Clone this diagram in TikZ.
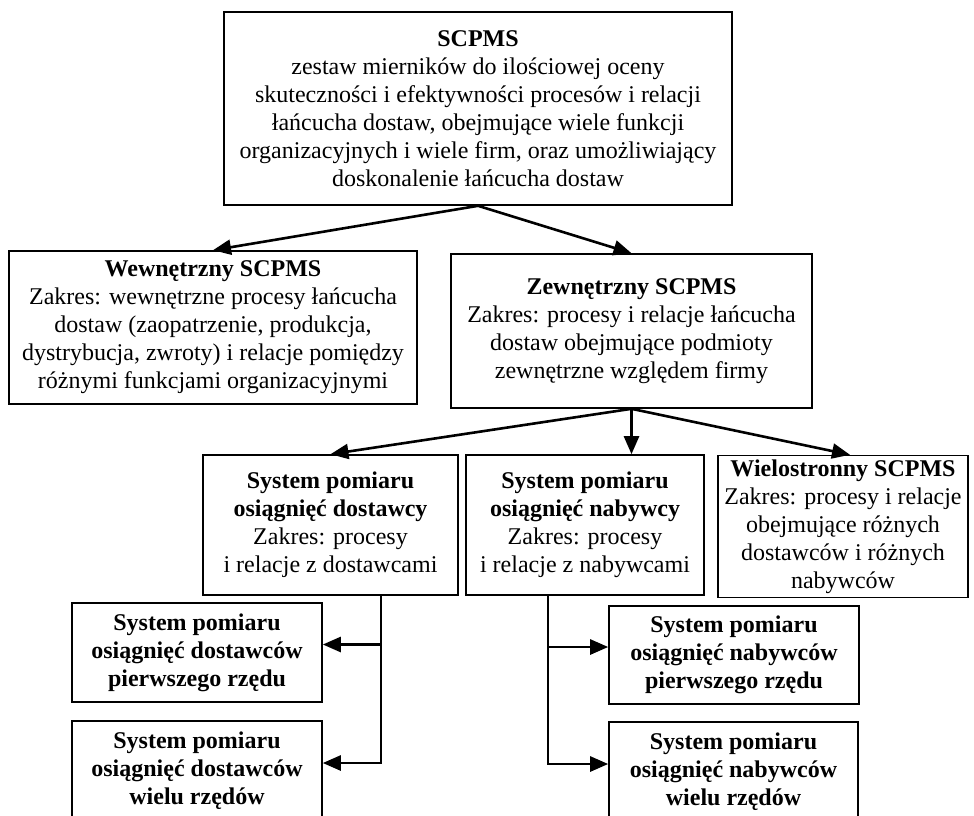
\documentclass[tikz,border=0pt]{standalone}
\usepackage{fontspec}
\setmainfont{Liberation Serif}
\usetikzlibrary{arrows.meta}
\tikzset{
   box/.style={draw, line width=0.8pt, align=center, inner sep=2pt,
      font=\fontsize{12pt}{14pt}\selectfont},
   arr/.style={-{Triangle[length=9pt,width=7.5pt]}, line width=1.3pt},
}

\begin{document}
\begin{tikzpicture}[x=0.5pt, y=-0.5pt]
   \useasboundingbox (0,0) rectangle (974,815);
   \clip (0,0) rectangle (974,815);

   \node [box, minimum width=254pt, minimum height=96.5pt] (scpms) at (478,108.5)
      {\textbf{SCPMS}\\ zestaw mierników do ilościowej oceny\\ skuteczności i efektywności procesów i relacji\\ łańcucha dostaw, obejmujące wiele funkcji\\ organizacyjnych i wiele firm, oraz umożliwiający\\ doskonalenie łańcucha dostaw};
   \node [box, minimum width=204pt, minimum height=76.5pt] (wew) at (213,327.5)
      {\textbf{Wewnętrzny SCPMS}\\ Zakres: wewnętrzne procesy łańcucha\\ dostaw (zaopatrzenie, produkcja,\\ dystrybucja, zwroty) i relacje pomiędzy\\ różnymi funkcjami organizacyjnymi};
   \node [box, minimum width=180.5pt, minimum height=77pt] (zew) at (631.5,331)
      {\textbf{Zewnętrzny SCPMS}\\ Zakres: procesy i relacje łańcucha\\ dostaw obejmujące podmioty\\ zewnętrzne względem firmy};

   \node [box, minimum width=127.5pt, minimum height=70pt] (dost) at (330.5,525)
      {\textbf{System pomiaru}\\ \textbf{osiągnięć dostawcy}\\ Zakres: procesy\\ i relacje z dostawcami};
   \node [box, minimum width=119pt, minimum height=70pt] (naby) at (585,525)
      {\textbf{System pomiaru}\\ \textbf{osiągnięć nabywcy}\\ Zakres: procesy\\ i relacje z nabywcami};
   \node [box, minimum width=125pt, minimum height=70.5pt] (wielo) at (843,526.5)
      {\textbf{Wielostronny SCPMS}\\ Zakres: procesy i relacje\\ obejmujące różnych\\ dostawców i różnych\\ nabywców};

   \node [box, minimum width=125pt, minimum height=49.5pt] (dost1) at (197,652.5)
      {\textbf{System pomiaru}\\ \textbf{osiągnięć dostawców}\\ \textbf{pierwszego rzędu}};
   \node [box, minimum width=125pt, minimum height=50pt] (dostn) at (197,771)
      {\textbf{System pomiaru}\\ \textbf{osiągnięć dostawców}\\ \textbf{wielu rzędów}};
   \node [box, minimum width=125pt, minimum height=49pt] (naby1) at (734,655)
      {\textbf{System pomiaru}\\ \textbf{osiągnięć nabywców}\\ \textbf{pierwszego rzędu}};
   \node [box, minimum width=124.5pt, minimum height=50pt] (nabyn) at (733.5,772)
      {\textbf{System pomiaru}\\ \textbf{osiągnięć nabywców}\\ \textbf{wielu rzędów}};

   \coordinate (dline) at (381,762);
   \coordinate (nline) at (548,762);

   \draw [arr] (scpms.south) -- (wew.north);
   \draw [arr] (scpms.south) -- (zew.north);
   \draw [arr] (zew.south) -- (dost.north);
   \draw [arr] (zew.south) -- (zew.south |- naby.north);
   \draw [arr] (zew.south) -- ([xshift=3.5pt]wielo.north);

   \draw [arr] (dost.south -| dline) |- ([yshift=4pt]dost1.east);
   \draw [arr] (dost.south -| dline) |- ([yshift=4pt]dostn.east);
   \draw [arr] (naby.south -| nline) |- ([yshift=4pt]naby1.west);
   \draw [arr] (naby.south -| nline) |- ([yshift=4pt]nabyn.west);
\end{tikzpicture}
\end{document}
